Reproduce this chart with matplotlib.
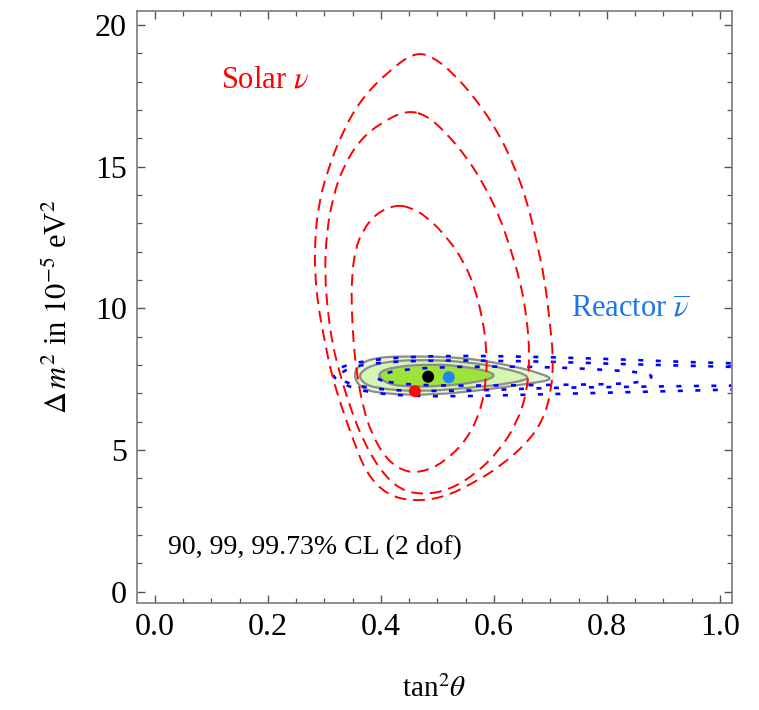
import numpy as np
import matplotlib
matplotlib.use("Agg")
import matplotlib.pyplot as plt
from matplotlib.path import Path
from matplotlib.patches import PathPatch
from matplotlib.ticker import MultipleLocator, FormatStrFormatter

plt.rcParams['font.family'] = ['Liberation Serif', 'DejaVu Serif']
plt.rcParams['mathtext.fontset'] = 'stix'
plt.rcParams['lines.scale_dashes'] = False

# Solar contours (red dashed): 90, 99, 99.73% CL
solar90_x = [0.4245, 0.392, 0.368, 0.354, 0.348, 0.348, 0.351, 0.357, 0.368, 0.383,
             0.410, 0.445, 0.481, 0.516, 0.551, 0.575, 0.587, 0.587, 0.578, 0.563,
             0.545, 0.516, 0.481, 0.451]
solar90_y = [13.65, 13.36, 12.77, 12.06, 11.00, 10.06, 8.88, 7.71, 6.53, 5.59,
             4.65, 4.20, 4.26, 4.65, 5.35, 6.30, 7.47, 8.65, 9.83, 10.89,
             11.71, 12.53, 13.24, 13.58]

solar99_x = [0.445, 0.398, 0.3625, 0.333, 0.315, 0.3035, 0.3005, 0.306, 0.315, 0.327,
             0.345, 0.368, 0.398, 0.433, 0.4746, 0.522, 0.569, 0.610, 0.640, 0.658,
             0.6635, 0.658, 0.646, 0.628, 0.610, 0.581, 0.551, 0.516, 0.481]
solar99_y = [17.00, 16.53, 15.94, 15.00, 13.94, 12.65, 11.24, 9.83, 8.65, 7.71,
             6.53, 5.35, 4.30, 3.60, 3.42, 3.60, 4.18, 5.00, 5.94, 7.00,
             8.30, 9.71, 11.00, 12.18, 13.24, 14.42, 15.35, 16.18, 16.82]

solar997_x = [0.460, 0.4155, 0.368, 0.333, 0.3035, 0.289, 0.283, 0.283, 0.289, 0.300,
              0.312, 0.330, 0.351, 0.374, 0.410, 0.457, 0.510, 0.563, 0.610, 0.658,
              0.687, 0.702, 0.705, 0.699, 0.690, 0.675, 0.658, 0.634, 0.605, 0.569,
              0.528, 0.492]
solar997_y = [19.05, 18.41, 17.47, 16.30, 14.77, 13.59, 12.41, 11.24, 10.06, 8.88,
              7.71, 6.53, 5.35, 4.18, 3.42, 3.19, 3.32, 3.83, 4.41, 5.24,
              6.06, 7.12, 8.30, 9.47, 11.00, 12.41, 13.83, 15.12, 16.30, 17.36,
              18.30, 18.88]

# Reactor (KamLAND) contours (blue dotted), open to the right
reac90_x = [0.385, 0.42, 0.50, 0.60, 0.70, 0.80, 0.86, 0.885, 0.86, 0.80, 0.70, 0.60, 0.50, 0.42]
reac90_y = [7.55, 7.80, 7.93, 7.95, 7.93, 7.83, 7.75, 7.60, 7.38, 7.32, 7.30, 7.28, 7.27, 7.35]

reac99_x = [1.05, 0.90, 0.80, 0.70, 0.60, 0.50, 0.40, 0.35, 0.325,
            0.33, 0.36, 0.42, 0.50, 0.60, 0.70, 0.80, 0.90, 1.05]
reac99_y = [7.92, 8.00, 8.05, 8.12, 8.15, 8.17, 8.10, 7.95, 7.68,
            7.45, 7.25, 7.10, 7.08, 7.12, 7.20, 7.22, 7.25, 7.28]

reac997_x = [1.05, 0.95, 0.85, 0.75, 0.65, 0.55, 0.45, 0.37, 0.33, 0.31,
             0.33, 0.37, 0.45, 0.55, 0.65, 0.75, 0.85, 0.95, 1.05]
reac997_y = [8.05, 8.10, 8.18, 8.25, 8.30, 8.33, 8.30, 8.15, 7.95, 7.70,
             7.35, 7.05, 6.90, 6.90, 6.95, 7.00, 7.05, 7.10, 7.15]

# Combined (green) regions
comb997_x = [0.3506, 0.3655, 0.386, 0.433, 0.551, 0.640, 0.681, 0.706, 0.669, 0.581, 0.492, 0.404, 0.3625]
comb997_y = [7.71, 8.06, 8.24, 8.32, 8.27, 7.94, 7.71, 7.50, 7.36, 7.12, 6.94, 6.98, 7.18]
comb99_x = [0.3595, 0.392, 0.463, 0.551, 0.622, 0.669, 0.634, 0.551, 0.463, 0.392, 0.368]
comb99_y = [7.71, 8.08, 8.20, 8.12, 7.88, 7.57, 7.36, 7.18, 7.06, 7.18, 7.36]
comb90_x = [0.393, 0.4215, 0.492, 0.551, 0.593, 0.603, 0.575, 0.504, 0.433, 0.404]
comb90_y = [7.71, 7.94, 8.04, 7.94, 7.77, 7.59, 7.41, 7.24, 7.24, 7.41]

# best-fit points
best_x = [0.4835, 0.520, 0.460]
best_y = [7.59, 7.57, 7.08]
best_c = ['black', '#1f86f5', '#ff0a0a']


def smooth(xs, ys, closed=True):
    # quadratic B-spline drawn through the read points as control points
    p = np.column_stack([xs, ys])
    n = len(p)
    if closed:
        m = (p + np.roll(p, -1, axis=0)) / 2
        verts = [m[-1]]
        codes = [Path.MOVETO]
        for i in range(n):
            verts += [p[i], m[i]]
            codes += [Path.CURVE3, Path.CURVE3]
    else:
        m = (p[:-1] + p[1:]) / 2
        verts = [p[0], m[0]]
        codes = [Path.MOVETO, Path.LINETO]
        for i in range(1, n - 1):
            verts += [p[i], m[i]]
            codes += [Path.CURVE3, Path.CURVE3]
        verts.append(p[-1])
        codes.append(Path.LINETO)
    return Path(verts, codes)


fig = plt.figure(figsize=(7.59, 7.10), dpi=100)
ax = fig.add_axes([0.1801, 0.1503, 0.7839, 0.8346])

for cx, cy, fc in [(comb997_x, comb997_y, '#e6f9d0'),
                   (comb99_x, comb99_y, '#d6f5b0'),
                   (comb90_x, comb90_y, '#9de43a')]:
    ax.add_patch(PathPatch(smooth(cx, cy), facecolor=fc, edgecolor='#8c8c8c',
                           linewidth=1.6, zorder=1))

for rx, ry, cl in [(reac90_x, reac90_y, True), (reac99_x, reac99_y, False),
                   (reac997_x, reac997_y, False)]:
    ax.add_patch(PathPatch(smooth(rx, ry, cl), facecolor='none', edgecolor='#0000ff',
                           linewidth=1.9, linestyle=(0, (3.6, 9.0)), zorder=2))

for sx, sy in [(solar90_x, solar90_y), (solar99_x, solar99_y), (solar997_x, solar997_y)]:
    ax.add_patch(PathPatch(smooth(sx, sy), facecolor='none', edgecolor='#ff0000',
                           linewidth=1.4, linestyle=(0, (8.5, 5.0)), zorder=3))

ax.scatter(best_x, best_y, c=best_c, s=75, zorder=4, linewidths=0)

ax.text(0.194, 18.06, r'Solar $\nu$', color='#ff0000', fontsize=22, ha='center', va='center')
ax.text(0.8406, 9.94, r'Reactor $\overline{\nu}$', color='#1a75f0', fontsize=22,
        ha='center', va='center')
ax.text(0.283, 1.54, '90, 99, 99.73% CL (2 dof)', color='black', fontsize=20,
        ha='center', va='center')

ax.set_xlim(-0.0324, 1.0207)
ax.set_ylim(-0.41, 20.51)
ax.xaxis.set_major_locator(MultipleLocator(0.2))
ax.xaxis.set_minor_locator(MultipleLocator(0.05))
ax.yaxis.set_major_locator(MultipleLocator(5))
ax.yaxis.set_minor_locator(MultipleLocator(1))
ax.xaxis.set_major_formatter(FormatStrFormatter('%.1f'))
ax.tick_params(which='both', direction='in', top=True, right=True, color='#555555')
ax.tick_params(which='major', length=6, width=1.0, labelsize=23, pad=7)
ax.tick_params(which='minor', length=3.6, width=0.9)
for sp in ax.spines.values():
    sp.set_color('#7a7a7a')
    sp.set_linewidth(1.2)

ax.set_xlabel(r'tan$^2\theta$', fontsize=21, labelpad=24)
ax.set_ylabel(r'$\Delta\, m^2$ in $10^{-5}$ eV$^2$', fontsize=22, labelpad=15)

fig.savefig('out.png', dpi=100)
